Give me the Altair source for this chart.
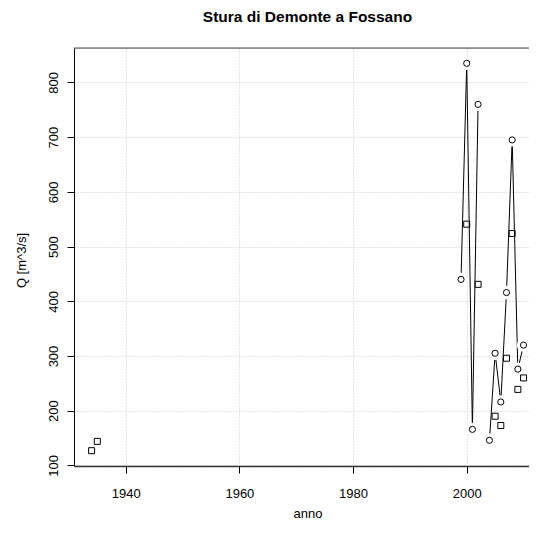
import altair as alt
import pandas as pd

# Data
max_years = [1999, 2000, 2001, 2002, 2003, 2004, 2005, 2006, 2007, 2008, 2009, 2010]
max_q = [440, 835, 166, 760, None, 146, 305, 216, 416, 695, 276, 320]

min_years = [1934, 1935, 2000, 2002, 2005, 2006, 2007, 2008, 2009, 2010]
min_q = [127, 144, 541, 431, 190, 173, 296, 524, 239, 260]

x_ticks = [1940, 1960, 1980, 2000]
y_ticks = [100, 200, 300, 400, 500, 600, 700, 800]

title_text = ["Stura di Demonte a Fossano"]

df_max = pd.DataFrame({"anno": max_years, "Q": max_q}).dropna()
df_max["seg"] = (df_max["anno"].diff() > 1).cumsum()
df_min = pd.DataFrame({"anno": min_years, "Q": min_q})
df_title = pd.DataFrame({"t": title_text})

FONT = "Liberation Sans"
W, H = 455, 418

X = alt.X("anno:Q", title="anno",
          scale=alt.Scale(domain=[1930.9, 2010.96], nice=False, zero=False),
          axis=alt.Axis(values=x_ticks, format="d", grid=True, gridDash=[1, 2],
                        gridColor="#c8c8c8", gridWidth=1,
                        tickSize=7, tickColor="black", tickWidth=1,
                        domainColor="#333333", domainWidth=1.5,
                        labelFont=FONT, labelFontSize=13, labelColor="black",
                        labelBaseline="alphabetic", labelPadding=24,
                        labelAlign="center",
                        titleFont=FONT, titleFontSize=13, titleFontWeight="normal",
                        titleColor="black", titleX=233.5, titleY=51,
                        titleAlign="center", titleBaseline="alphabetic"))
Y = alt.Y("Q:Q", title="Q [m^3/s]",
          scale=alt.Scale(domain=[99, 863], nice=False, zero=False),
          axis=alt.Axis(values=y_ticks, format="d", grid=True, gridDash=[1, 2],
                        gridColor="#c8c8c8", gridWidth=1,
                        tickSize=7, tickColor="black", tickWidth=1,
                        domainColor="black", domainWidth=1,
                        labelFont=FONT, labelFontSize=13, labelColor="black",
                        labelAngle=270, labelAlign="center",
                        labelBaseline="alphabetic", labelPadding=10,
                        titleFont=FONT, titleFontSize=13, titleFontWeight="normal",
                        titleColor="black", titleAngle=270, titleX=-49, titleY=212,
                        titleAlign="center", titleBaseline="alphabetic"))

line = alt.Chart(df_max).mark_line(color="black", strokeWidth=1).encode(
    x=X, y=Y, detail="seg:N")
gap = alt.Chart(df_max).mark_point(shape="circle", filled=True, color="white",
                                   size=180, opacity=1, strokeWidth=0).encode(x=X, y=Y)
circ = alt.Chart(df_max).mark_point(shape="circle", filled=False, color="black",
                                    size=38, opacity=1, strokeWidth=1).encode(x=X, y=Y)
sq = alt.Chart(df_min).mark_point(shape="square", filled=False, color="black",
                                  size=36, opacity=1, strokeWidth=1).encode(x=X, y=Y)

frame_df = pd.DataFrame({"k": [0]})
top_rule = alt.Chart(frame_df).mark_rule(color="#444444", strokeWidth=1).encode(
    x=alt.value(0), x2=alt.value(W), y=alt.value(0))

title = alt.Chart(df_title).mark_text(
    font=FONT, fontSize=15.5, fontWeight="bold", color="black",
    align="center", baseline="alphabetic").encode(
    text="t:N", x=alt.value(233.5), y=alt.value(-26.3))

chart = alt.layer(line, gap, circ, sq, top_rule, title).properties(
    width=W, height=H,
    autosize=alt.AutoSizeParams(type="none"),
    padding={"left": 66, "top": 40, "right": 0, "bottom": 56},
).configure_view(stroke=None).configure(background="white")

chart.save("out.html", embed_options={"renderer": "svg", "actions": False})
